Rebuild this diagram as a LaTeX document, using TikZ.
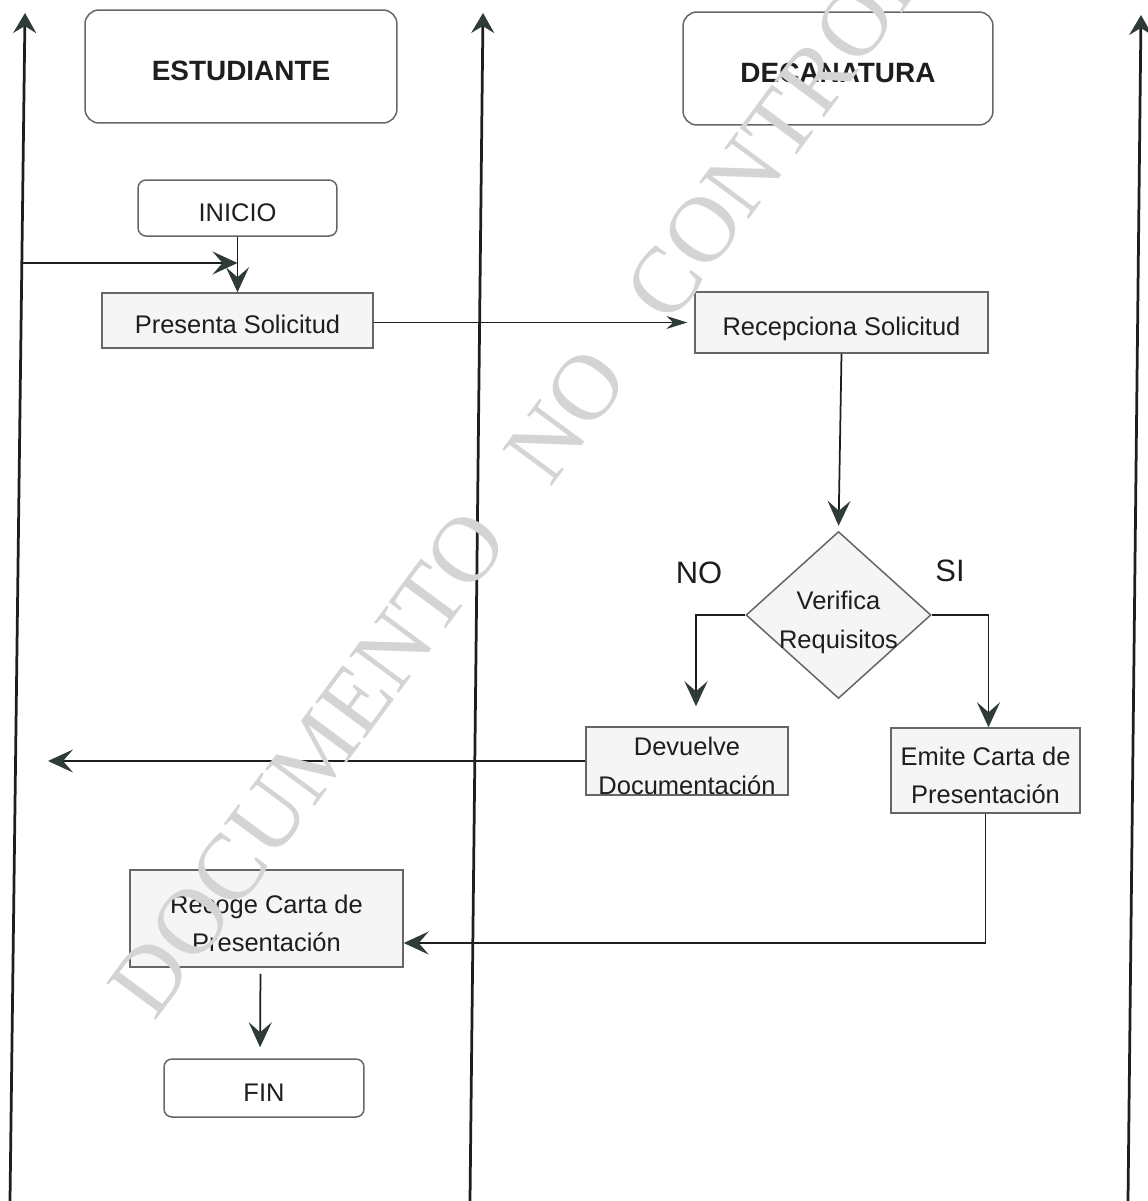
\documentclass[tikz,border=0pt]{standalone}
\usepackage{fontspec}
\setmainfont{Liberation Sans}
\newfontfamily\wmfont{Liberation Serif}
\usetikzlibrary{shapes.geometric,arrows.meta,calc}

\definecolor{ink}{HTML}{1E1E1E}
\definecolor{tipcol}{HTML}{2E3B38}
\definecolor{edge}{HTML}{666666}
\definecolor{wm}{HTML}{D4D4D4}
\definecolor{grain}{HTML}{F5F5F5}

% two centred lines, set a little below the middle of their box,
% without letting them change the size of the box
\newcommand\droplines[1]{\raisebox{-0.25cm}[0pt][0pt]{\begin{tabular}{@{}c@{}}#1\end{tabular}}}

\begin{document}
\begin{tikzpicture}[x=0.02cm,y=-0.02cm,
  txt/.style={font=\fontsize{14.5}{21.9}\selectfont, text=ink},
  oneline/.style={text height=0.52cm, text depth=0pt},
  head/.style={draw=edge, line width=0.03cm, rounded corners=0.28cm, inner sep=0,
    font=\fontsize{15.9}{19}\selectfont\bfseries, text=ink,
    text height=0.54cm, text depth=0pt},
  term/.style={draw=edge, line width=0.03cm, rounded corners=0.16cm, inner sep=0, txt, oneline},
  proc/.style={draw=edge, line width=0.03cm, fill=grain, inner sep=0, txt},
  decis/.style={diamond, draw=edge, line width=0.03cm, fill=grain, inner sep=0, txt},
  lane/.style={draw=ink, line width=0.055cm,
    -{Stealth[length=0.4cm,width=0.46cm,inset=0.14cm,color=tipcol]}},
  flow/.style={draw=ink, line width=0.035cm,
    -{Stealth[length=0.5cm,width=0.46cm,inset=0.2cm,color=tipcol]}},
  thinflow/.style={draw=ink, line width=0.02cm,
    -{Stealth[length=0.42cm,width=0.26cm,inset=0.14cm,color=tipcol]}},
  lbl/.style={font=\fontsize{17.6}{20}\selectfont, text=ink, inner sep=0}
]
\useasboundingbox (0,0) rectangle (1147,1201);

% swimlane separators
\coordinate (l1b) at (10,1201);  \coordinate (l1t) at (25,13);
\coordinate (l2b) at (470,1201); \coordinate (l2t) at (483,13);
\coordinate (l3b) at (1128,1201); \coordinate (l3t) at (1141,15);
\draw[lane] (l1b) -- (l1t);
\draw[lane] (l2b) -- (l2t);
\draw[lane] (l3b) -- (l3t);

% lane headers
\node[head, minimum width=6.24cm, minimum height=2.26cm] (est) at (241,66.5) {ESTUDIANTE};
\node[head, minimum width=6.2cm, minimum height=2.26cm] (dec) at (838,68.5) {DECANATURA};

% steps
\node[term, minimum width=3.98cm, minimum height=1.12cm] (inicio) at (237.5,208) {INICIO};
\node[proc, oneline, minimum width=5.42cm, minimum height=1.1cm] (presenta) at (237.5,320.5) {Presenta Solicitud};
\node[proc, oneline, minimum width=5.86cm, minimum height=1.22cm] (recep) at (841.5,322.5) {Recepciona Solicitud};
\node[decis, minimum width=3.7cm, minimum height=3.34cm] (dia) at (838.5,615) {\droplines{Verifica\\Requisitos}};
\node[proc, minimum width=4.04cm, minimum height=1.36cm] (devuelve) at (687,761) {\droplines{Devuelve\\Documentación}};
\node[proc, minimum width=3.78cm, minimum height=1.7cm] (emite) at (985.5,770.5) {\droplines{Emite Carta de\\Presentación}};
\node[proc, minimum width=5.46cm, minimum height=1.94cm] (recoge) at (266.5,918.5) {\droplines{Recoge Carta de\\Presentación}};
\node[term, minimum width=4.0cm, minimum height=1.16cm] (fin) at (264,1088) {FIN};

% branch labels
\node[lbl] (no) at (699,573) {NO};
\node[lbl] (si) at (950,571) {SI};

% connectors
\coordinate (ret) at (22,263);
\coordinate (jn) at (237.5,263);
\coordinate (back) at (48,761);
\draw[flow] (inicio.south) -- (presenta.north);
\draw[flow] (ret) -- (jn);
\draw[thinflow, shorten >=0.14cm] ($(presenta.east)+(0,2)$) -- ($(presenta.east -| recep.west)+(0,2)$);
\draw[flow, shorten >=0.1cm] (recep.south) -- (dia.north);
\draw[flow, shorten >=0.4cm] (dia.west) -| ($(devuelve.north)+(9,0)$);
\draw[flow] (dia.east) -| ($(emite.north)+(3,0)$);
\draw[flow] (devuelve.west) -- (back);
\draw[flow] (emite.south) |- ($(recoge.east)+(0,24.5)$);
\draw[flow, shorten <=0.12cm, shorten >=0.22cm] ($(recoge.south)+(-6,0)$) -- ($(fin.north)+(-4,0)$);

% stamp across the sheet
\begin{scope}
  \clip (0,0) rectangle (1147,1201);
  \node[anchor=base west, inner sep=0, rotate=53.5, text=wm,
        font=\wmfont\fontsize{53.5}{60}\selectfont] (stamp) at (154.7,1022.7)
        {DOCUMENTO\hspace{1.32cm}NO\hspace{1.32cm}CONTROLADO};
\end{scope}
\end{tikzpicture}
\end{document}
